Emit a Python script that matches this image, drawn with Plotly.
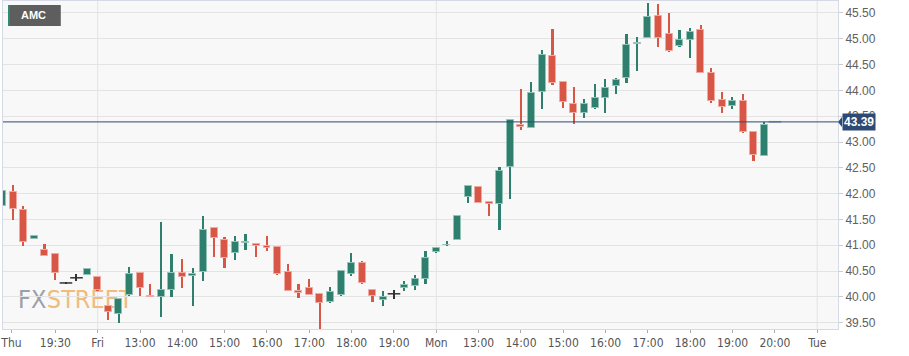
import plotly.graph_objects as go

# ---------------- data (15-minute candles, AMC) ----------------
opens = [41.77, 42.04, 41.68, 41.13, 40.91, 40.84, 40.27, 40.37, 40.42, 40.38,
         39.83, 39.67, 40.04, 40.46, 40.02, 40.00, 40.13, 40.46, 40.41, 40.48,
         41.34, 41.10, 40.85, 41.04, 41.02, 40.99, 40.97, 40.49, 40.12, 40.18,
         40.06, 39.90, 40.04, 40.45, 40.66, 40.13, 39.94, 40.06, 40.18, 40.22,
         40.35, 40.87, 41.00, 41.11, 41.94, 42.13, 41.84, 41.80, 42.51, 43.33,
         43.28, 43.97, 44.67, 44.17, 43.74, 43.57, 43.66, 43.85, 44.09, 44.24,
         44.89, 45.02, 45.45, 45.09, 44.86, 44.98, 45.17, 44.34, 43.82, 43.69,
         43.80, 43.20, 42.73, 43.39]
highs = [42.10, 42.17, 41.77, 41.19, 41.03, 40.86, 40.28, 40.44, 40.55, 40.39,
         39.84, 39.97, 40.58, 40.47, 40.25, 41.45, 40.83, 40.73, 40.56, 41.57,
         41.35, 41.17, 41.18, 41.22, 41.03, 41.18, 40.98, 40.64, 40.25, 40.35,
         40.07, 40.20, 40.52, 40.85, 40.69, 40.15, 40.11, 40.14, 40.31, 40.43,
         40.89, 40.96, 41.09, 41.58, 42.15, 42.14, 41.85, 42.51, 43.43, 44.02,
         44.16, 44.78, 45.18, 44.18, 44.06, 43.84, 44.12, 44.22, 44.24, 45.09,
         45.04, 45.70, 45.67, 45.49, 45.17, 45.20, 45.27, 44.43, 43.97, 43.88,
         43.93, 43.21, 43.38, 43.39]
lows = [41.75, 41.48, 40.98, 41.12, 40.79, 40.32, 40.26, 40.31, 40.42, 40.12,
        39.56, 39.49, 40.01, 40.01, 40.00, 39.61, 40.00, 40.17, 39.82, 40.30,
        40.77, 40.56, 40.71, 40.90, 40.77, 40.88, 40.42, 40.12, 39.98, 40.03,
        39.38, 39.89, 40.01, 40.41, 40.25, 39.91, 39.83, 39.96, 40.11, 40.13,
        40.25, 40.85, 40.99, 41.10, 41.82, 41.81, 41.56, 41.29, 41.89, 43.24,
        43.27, 43.64, 44.10, 43.66, 43.35, 43.46, 43.64, 43.57, 43.93, 44.14,
        44.38, 45.01, 44.84, 44.75, 44.85, 44.62, 44.33, 43.76, 43.57, 43.64,
        43.17, 42.64, 42.72, 43.39]
closes = [42.06, 41.71, 41.06, 41.18, 40.80, 40.46, 40.27, 40.37, 40.55, 40.13,
          39.70, 39.96, 40.45, 40.17, 40.00, 40.14, 40.46, 40.38, 40.45, 41.30,
          41.15, 40.76, 41.06, 41.07, 40.98, 40.95, 40.45, 40.12, 40.08, 40.04,
          39.89, 40.09, 40.51, 40.66, 40.27, 40.02, 39.99, 40.06, 40.23, 40.35,
          40.75, 40.95, 41.01, 41.57, 42.14, 41.82, 41.80, 42.44, 43.42, 43.29,
          43.95, 44.69, 44.15, 43.78, 43.56, 43.73, 43.85, 44.04, 44.20, 44.88,
          44.92, 45.43, 45.01, 44.77, 44.98, 45.14, 44.34, 43.80, 43.67, 43.80,
          43.19, 42.75, 43.33, 43.39]

tick_pos = [0.85, 5, 9, 13, 17, 21, 25, 29, 33, 37, 41, 45, 49, 53, 57, 61, 65, 69, 73, 77]
tick_text = ['Thu', '19:30', 'Fri', '13:00', '14:00', '15:00', '16:00', '17:00', '18:00',
             '19:00', 'Mon', '13:00', '14:00', '15:00', '16:00', '17:00', '18:00', '19:00',
             '20:00', 'Tue']
symbol = 'AMC'

# ---------------- styling ----------------
UP, DOWN = '#2f7f6e', '#d75646'
UP_EDGE, DOWN_EDGE = '#93c2b7', '#efa9a0'
DOJI, LIVE = '#333333', '#b3bccd'
NARROW = 'Liberation Sans Narrow, Arial Narrow, DejaVu Sans Condensed, Liberation Sans, Arial, sans-serif'
SANS = 'Liberation Sans, Arial, sans-serif'
W, H = 909, 356
ML, MR, MT, MB = 0, 71, 1, 27
PW, PH = W - ML - MR, H - MT - MB
XR = [0.053, 78.96]
YR = [39.378, 45.732]

def px_x(px):
    return px / PW

def px_y(py):
    return 1 - (py - MT) / PH

n = len(closes)
xs = list(range(n))
last = n - 1

body_x, body_base, body_h, body_col, body_edge = [], [], [], [], []
wick_x, wick_base, wick_h, wick_col = [], [], [], []
doji_x, doji_y, doji_col, doji_w = [], [], [], []
for i in xs:
    o, h, l, c = opens[i], highs[i], lows[i], closes[i]
    if c == o:
        col = LIVE if i == last else DOJI
        doji_x.append(i); doji_y.append(c); doji_col.append(col)
        doji_w.append(2 if i == last else 1.5)
    else:
        up = c > o
        col = UP if up else DOWN
        body_x.append(i); body_base.append(o); body_h.append(c - o)
        body_col.append(col); body_edge.append(UP_EDGE if up else DOWN_EDGE)
    if h > l:
        wick_x.append(i); wick_base.append(l); wick_h.append(h - l)
        wick_col.append(col)

fig = go.Figure()
fig.add_trace(go.Bar(x=wick_x, y=wick_h, base=wick_base, width=0.16,
                     marker=dict(color=wick_col, line=dict(width=0)),
                     hoverinfo='skip', showlegend=False))
fig.add_trace(go.Bar(x=body_x, y=body_h, base=body_base, width=0.66,
                     marker=dict(color=body_col, line=dict(color=body_edge, width=1)),
                     hoverinfo='skip', showlegend=False))
fig.add_trace(go.Scatter(x=doji_x, y=doji_y, mode='markers',
                         marker=dict(symbol='line-ew', size=9,
                                     line=dict(color=doji_col, width=doji_w)),
                         hoverinfo='skip', showlegend=False))

shapes = []
# vertical grid lines at day boundaries
for p, t in zip(tick_pos, tick_text):
    if ':' not in t and p > XR[0] + 1:
        shapes.append(dict(type='line', xref='x', yref='paper', x0=p, x1=p, y0=0, y1=1,
                           line=dict(color='#e3e3e3', width=1), layer='below'))
# watermark
shapes.append(dict(type='rect', xref='paper', yref='paper',
                   x0=px_x(12), x1=px_x(42), y0=px_y(312), y1=px_y(282),
                   line=dict(width=0), fillcolor='rgba(0,0,0,0)', layer='below',
                   label=dict(text='FX', textposition='middle left', padding=0,
                              font=dict(family=NARROW, size=25, color='#9ba0a8'))))
shapes.append(dict(type='rect', xref='paper', yref='paper',
                   x0=px_x(41), x1=px_x(140), y0=px_y(312), y1=px_y(282),
                   line=dict(width=0), fillcolor='rgba(0,0,0,0)', layer='below',
                   label=dict(text='STREET', textposition='middle left', padding=0,
                              font=dict(family=NARROW, size=25, color='#f1bb7c'))))
# symbol tag
shapes.append(dict(type='rect', xref='paper', yref='paper',
                   x0=px_x(7), x1=px_x(58), y0=px_y(26), y1=px_y(5),
                   line=dict(width=0), fillcolor='#5e5e5e'))
shapes.append(dict(type='rect', xref='paper', yref='paper',
                   x0=px_x(5), x1=px_x(7), y0=px_y(26), y1=px_y(5),
                   line=dict(width=0), fillcolor='#2e8a70'))
# last price line + pointer
lp = closes[-1]
shapes.append(dict(type='line', xref='paper', yref='y', x0=0, x1=1, y0=lp, y1=lp,
                   line=dict(color='#2c4a75', width=1)))
yp = (lp - YR[0]) / (YR[1] - YR[0])
shapes.append(dict(type='path', xref='paper', yref='paper',
                   path=f'M 1,{yp} L {1 + 4 / PW},{yp + 5 / PH} L {1 + 4 / PW},{yp - 5 / PH} Z',
                   line=dict(width=0), fillcolor='#2c4a75'))

annotations = [
    dict(x=px_x(16), y=px_y(15.5), xref='paper', yref='paper', xanchor='left',
         yanchor='middle', text=symbol, showarrow=False,
         font=dict(family=SANS, size=11, color='white', weight='bold')),
    dict(x=1, y=lp, xref='paper', yref='y', xanchor='left', yanchor='middle', xshift=4,
         text=f'{lp:.2f}', showarrow=False, bgcolor='#2c4a75', borderpad=1,
         font=dict(family=SANS, size=12, color='white', weight='bold')),
]

fig.update_layout(
    width=W, height=H, margin=dict(l=ML, r=MR, t=MT, b=MB),
    paper_bgcolor='white', plot_bgcolor='#f8f8f8',
    barmode='overlay', bargap=0, showlegend=False, hovermode=False,
    shapes=shapes, annotations=annotations,
    xaxis=dict(range=XR, tickmode='array', tickvals=tick_pos, ticktext=tick_text,
               showgrid=False, zeroline=False, showline=True, mirror=True,
               linecolor='#d5dae6', linewidth=1, ticks='outside', ticklen=3,
               tickcolor='#aaaaaa', ticklabeloverflow='allow',
               tickfont=dict(family=NARROW, size=12, color='#555555')),
    yaxis=dict(range=YR, side='right', tick0=39.5, dtick=0.5, tickformat='.2f',
               showgrid=True, gridcolor='#e3e3e3', gridwidth=1, zeroline=False,
               showline=True, mirror=True, linecolor='#d5dae6', linewidth=1,
               ticks='outside', ticklen=4, tickcolor='#cccccc',
               tickfont=dict(family=SANS, size=12, color='#606060')),
)

fig.write_html('out.html', config={'displayModeBar': False},
               post_script="document.body.style.margin='0';")
